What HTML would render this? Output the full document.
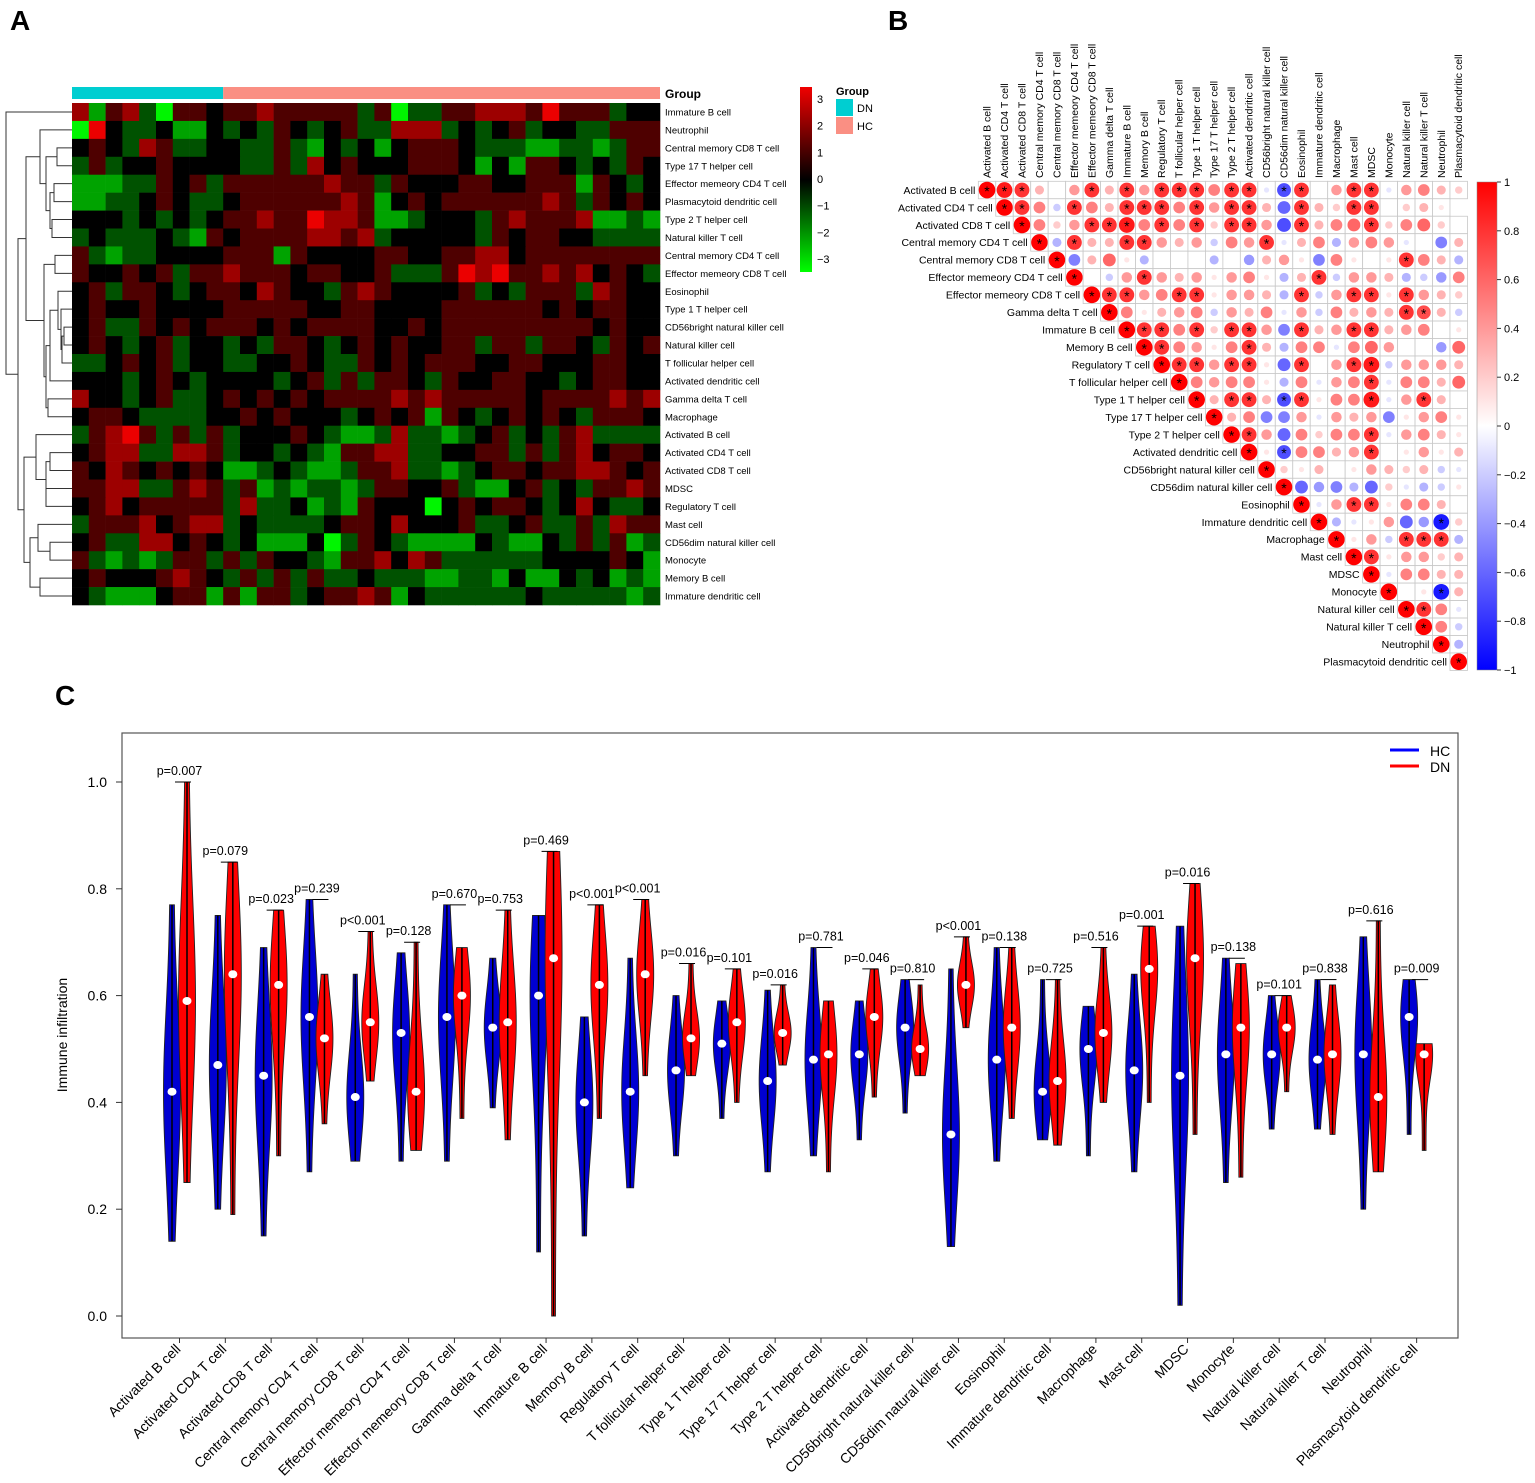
<!DOCTYPE html>
<html><head><meta charset="utf-8">
<style>
html,body{margin:0;padding:0;background:#fff;}
svg{display:block;font-family:"Liberation Sans",Arial,sans-serif;}
</style></head>
<body>
<svg id="fig" width="1535" height="1483" viewBox="0 0 1535 1483" xmlns="http://www.w3.org/2000/svg">
<rect width="1535" height="1483" fill="#fff"/>
<text x="10" y="30" font-size="28" font-weight="bold">A</text>
<text x="888" y="30" font-size="28" font-weight="bold">B</text>
<text x="55" y="705" font-size="28" font-weight="bold">C</text>
<g id="gA"></g>
<g id="gB"></g>
<g id="gC"></g>
</svg>
<script>
const NS="http://www.w3.org/2000/svg";
function mk(parent,tag,attrs,txt){const e=document.createElementNS(NS,tag);for(const k in attrs)e.setAttribute(k,attrs[k]);if(txt!==undefined)e.textContent=txt;parent.appendChild(e);return e;}

/* ---------------- DATA ---------------- */
const heatRows=["Immature  B cell","Neutrophil","Central memory CD8 T cell","Type 17 T helper cell","Effector memeory CD4 T cell","Plasmacytoid dendritic cell","Type 2 T helper cell","Natural killer T cell","Central memory CD4 T cell","Effector memeory CD8 T cell","Eosinophil","Type 1 T helper cell","CD56bright natural killer cell","Natural killer cell","T follicular helper cell","Activated dendritic cell","Gamma delta T cell","Macrophage","Activated B cell","Activated CD4 T cell","Activated CD8 T cell","MDSC","Regulatory T cell","Mast cell","CD56dim natural killer cell","Monocyte","Memory B cell","Immature dendritic cell"];
const heatGroups=[9,26]; // DN columns, HC columns
const heatValues=[
"51452044344544444240224455546444233",
"06322311323243234225552323423322444",
"34325422332242132313444322211221244",
"24233433332242534333444313144323243",
"11122434244444454424333443344414323",
"11223432234444445413434444445424343",
"33323232344544655411233324544451121",
"23222321434444554523333324344332222",
"42122333344414333344334455344444444",
"43343424454443443342224656445453432",
"34244323443543324543333423244425433",
"34334333344444334433334444443434433",
"34224343444343444433434444444443433",
"34323423323244323434334424424432434",
"22343423322334322434344433443334433",
"33323432333323424244324334433234433",
"53323422343434344445454444434444545",
"34432222334343332343414323434324443",
"24564242423334321125221234232452222",
"34552255423323214455223344242453443",
"43543434311232112445221234434455434",
"44552245424121221244334211342324454",
"34534444425223121433303434432353223",
"24445345523222234435333422342242544",
"34225534323111302432111132113242412",
"42121244242433214453542222223333431",
"34333454324242422322211221311323121",
"32111344141442344541322222232222212"];
const legendTicks=[3,2,1,0,-1,-2,-3];

const corrNames=["Activated B cell","Activated CD4 T cell","Activated CD8 T cell","Central memory CD4 T cell","Central memory CD8 T cell","Effector memeory CD4 T cell","Effector memeory CD8 T cell","Gamma delta T cell","Immature  B cell","Memory B cell","Regulatory T cell","T follicular helper cell","Type 1 T helper cell","Type 17 T helper cell","Type 2 T helper cell","Activated dendritic cell","CD56bright natural killer cell","CD56dim natural killer cell","Eosinophil","Immature dendritic cell","Macrophage","Mast cell","MDSC","Monocyte","Natural killer cell","Natural killer T cell","Neutrophil","Plasmacytoid dendritic cell"];
// upper triangle rows (start at diagonal). digits=+0.d, a-i=-0.1..-0.9, A-F=0.5*..1.0* (significant), x=-0.7*, y=-0.9*
const corrRows=["FED304D3D4DDD5DDaxD04DDa4532","FD5bD53DDD5D4DD3fD32DD0231","F524DDE5D5D2DD4gD356D25620","FcD33DD434b54Da35c454a0e3","Fe361c000c0d341e5101D53c","F0b4D4341451c3Db443cbd5","FDD45DD1443cDb4DD1D432","F51345b435a4b5343DC3b","FDD5D2DD4eD34DD34501","FD5415D3c55a56400d6","FDD4DD1fD04DEb4443","F54551c5a45Da5536","F3DD3xD155Ea4D30","F35ee4a434e1451","FD4f5255Da4531","F1x5534D01413","F213014323ba","Ffdecf2acb1","Fa4DD15530","Fca14fdy2","F14bDDDc","FD14423","Fa5533","F01y3","FD5a","F5b","Fc","F"];
const corrTicks=[1,0.8,0.6,0.4,0.2,0,-0.2,-0.4,-0.6,-0.8,-1];

const violinCats=["Activated B cell","Activated CD4 T cell","Activated CD8 T cell","Central memory CD4 T cell","Central memory CD8 T cell","Effector memeory CD4 T cell","Effector memeory CD8 T cell","Gamma delta T cell","Immature  B cell","Memory B cell","Regulatory T cell","T follicular helper cell","Type 1 T helper cell","Type 17 T helper cell","Type 2 T helper cell","Activated dendritic cell","CD56bright natural killer cell","CD56dim natural killer cell","Eosinophil","Immature dendritic cell","Macrophage","Mast cell","MDSC","Monocyte","Natural killer cell","Natural killer T cell","Neutrophil","Plasmacytoid dendritic cell"];
const hcMax=[0.77,0.75,0.69,0.78,0.64,0.68,0.77,0.67,0.75,0.56,0.67,0.60,0.59,0.61,0.69,0.59,0.63,0.65,0.69,0.63,0.58,0.64,0.73,0.67,0.60,0.63,0.71,0.63];
const hcMin=[0.14,0.20,0.15,0.27,0.29,0.29,0.29,0.39,0.12,0.15,0.24,0.30,0.37,0.27,0.30,0.33,0.38,0.13,0.29,0.33,0.30,0.27,0.02,0.25,0.35,0.35,0.20,0.34];
const hcMed=[0.42,0.47,0.45,0.56,0.41,0.53,0.56,0.54,0.60,0.40,0.42,0.46,0.51,0.44,0.48,0.49,0.54,0.34,0.48,0.42,0.50,0.46,0.45,0.49,0.49,0.48,0.49,0.56];
const dnMax=[1.00,0.85,0.76,0.64,0.72,0.70,0.69,0.76,0.87,0.77,0.78,0.66,0.65,0.62,0.59,0.65,0.62,0.71,0.69,0.63,0.69,0.73,0.81,0.66,0.60,0.62,0.74,0.51];
const dnMin=[0.25,0.19,0.30,0.36,0.44,0.31,0.37,0.33,0.00,0.37,0.45,0.45,0.40,0.47,0.27,0.41,0.45,0.54,0.37,0.32,0.40,0.40,0.34,0.26,0.42,0.34,0.27,0.31];
const dnMed=[0.59,0.64,0.62,0.52,0.55,0.42,0.60,0.55,0.67,0.62,0.64,0.52,0.55,0.53,0.49,0.56,0.50,0.62,0.54,0.44,0.53,0.65,0.67,0.54,0.54,0.49,0.41,0.49];
const pLabels=["p=0.007","p=0.079","p=0.023","p=0.239","p<0.001","p=0.128","p=0.670","p=0.753","p=0.469","p<0.001","p<0.001","p=0.016","p=0.101","p=0.016","p=0.781","p=0.046","p=0.810","p<0.001","p=0.138","p=0.725","p=0.516","p=0.001","p=0.016","p=0.138","p=0.101","p=0.838","p=0.616","p=0.009"];
const yTicks=[0,0.2,0.4,0.6,0.8,1.0];

/* ---------------- PANEL A ---------------- */
(function(){
const g=document.getElementById('gA');
const x0=72,x1=660,y0=103,y1=605;
const nC=heatGroups[0]+heatGroups[1], nR=heatRows.length;
const cw=(x1-x0)/nC, rh=(y1-y0)/nR;
// group bar
let e=mk(g,'rect',{x:x0,y:87,width:cw*heatGroups[0],height:12,fill:'#00ced1'});

e=mk(g,'rect',{x:x0+cw*heatGroups[0],y:87,width:cw*heatGroups[1],height:12,fill:'#fa8f83'});

e=mk(g,'text',{x:665,y:98,'font-size':12,'font-weight':'bold'},'Group');

function col(v){if(v>=0){return 'rgb('+Math.round(v/3*235)+',0,0)';}return 'rgb(0,'+Math.round(-v/3*245)+',0)';}
heatValues.forEach((row,r)=>{
  for(let c=0;c<nC;c++){
    const v=(parseInt(row[c]||'3'))-3;
    const cell=mk(g,'rect',{x:x0+c*cw,y:y0+r*rh,width:cw+0.3,height:rh+0.3,fill:col(v)});
    
    
  }
  const t=mk(g,'text',{x:665,y:y0+r*rh+rh/2+3.5,'font-size':9.5},heatRows[r]);
  
  
});
// dendrogram
const C1=[26,[40,1,[46,[57,2,3],[50,[54,4,5],[52,6,7]]]],[44,[55,8,9],[46,[50,[58,10,[61,11,[62,[64,12,13],14]]],15],[48,16,17]]]];
const C2=[24,[36,18,[46,[50,19,20],[46,21,22]]],[30,[38,23,[50,24,25]],[40,26,27]]];
const tree=[6,0,[18,C1,C2]];
function draw(n){
  if(typeof n==='number'){return {x:x0,y:y0+n*rh+rh/2};}
  const a=draw(n[1]),b=draw(n[2]);const hx=n[0];
  const p=mk(g,'path',{d:`M${a.x},${a.y}H${hx}V${b.y}H${b.x}`,fill:'none',stroke:'#333','stroke-width':1});
  
  return {x:hx,y:(a.y+b.y)/2};
}
draw(tree);
// legend
const defs=mk(g,'defs',{});
const lg=mk(defs,'linearGradient',{id:'hmgrad',x1:0,y1:0,x2:0,y2:1});
mk(lg,'stop',{offset:'0','stop-color':'#f00000'});mk(lg,'stop',{offset:'0.5','stop-color':'#000'});mk(lg,'stop',{offset:'1','stop-color':'#00ff00'});
e=mk(g,'rect',{x:800,y:87,width:12,height:185,fill:'url(#hmgrad)'});

legendTicks.forEach(v=>{const y=179-v*26.7;
  const t=mk(g,'text',{x:817,y:y+4,'font-size':11},v<0?'\u2212'+(-v):String(v));
  });
e=mk(g,'text',{x:836,y:95,'font-size':11,'font-weight':'bold'},'Group');

e=mk(g,'rect',{x:836,y:99,width:17,height:17,fill:'#00ced1'});

e=mk(g,'text',{x:857,y:112,'font-size':11},'DN');

e=mk(g,'rect',{x:836,y:117,width:17,height:17,fill:'#fa8f83'});

e=mk(g,'text',{x:857,y:130,'font-size':11},'HC');

})();

/* ---------------- PANEL B ---------------- */
(function(){
const g=document.getElementById('gB');
const n=corrNames.length, cs=17.47, gx=978.3, gy=181.3;
function dec(ch){
  if(ch>='0'&&ch<='9')return {r:parseInt(ch)/10,s:false};
  if(ch>='a'&&ch<='i')return {r:-(ch.charCodeAt(0)-96)/10,s:false};
  if(ch>='A'&&ch<='F')return {r:(ch.charCodeAt(0)-60)/10,s:true};
  if(ch==='x')return {r:-0.7,s:true};
  if(ch==='y')return {r:-0.9,s:true};
  return {r:0,s:false};
}
function col(r){const t=Math.min(1,Math.abs(r));const w=Math.round(255*(1-t));return r>=0?`rgb(255,${w},${w})`:`rgb(${w},${w},255)`;}
corrRows.forEach((row,i)=>{
  for(let k=0;k<row.length;k++){
    const j=i+k;const d=dec(row[k]);
    const cx=gx+j*cs,cy=gy+i*cs;
    const cell=mk(g,'rect',{x:cx,y:cy,width:cs,height:cs,fill:'#fff',stroke:'#c8c8c8','stroke-width':0.8});
    
    
    const rad=Math.sqrt(Math.abs(d.r))*8.3;
    const c=mk(g,'circle',{cx:cx+cs/2,cy:cy+cs/2,r:rad,fill:col(d.r)});
    
    
    if(d.s){const s=mk(g,'text',{x:cx+cs/2,y:cy+cs/2+6,'font-size':14,'text-anchor':'middle'},'*');
      
      }
  }
  const t=mk(g,'text',{x:gx+i*cs-3,y:gy+i*cs+cs/2+3.8,'font-size':10.5,'text-anchor':'end'},corrNames[i]);
  
  
  const tx=gx+i*cs+cs/2+3.5;
  const ct=mk(g,'text',{x:tx,y:178,'font-size':10.5,transform:`rotate(-90 ${tx} 178)`},corrNames[i]);
  
  
});
const defs=mk(g,'defs',{});
const lg=mk(defs,'linearGradient',{id:'cbgrad',x1:0,y1:0,x2:0,y2:1});
mk(lg,'stop',{offset:'0','stop-color':'#ff0000'});mk(lg,'stop',{offset:'0.5','stop-color':'#ffffff'});mk(lg,'stop',{offset:'1','stop-color':'#0000ff'});
const cb=mk(g,'rect',{x:1477,y:182,width:20,height:488,fill:'url(#cbgrad)',stroke:'#888','stroke-width':0.5});

corrTicks.forEach(v=>{const y=426-v*244;
  const l=mk(g,'line',{x1:1497,x2:1501,y1:y,y2:y,stroke:'#333'});
  
  const t=mk(g,'text',{x:1504,y:y+4,'font-size':11},v<0?'\u2212'+(-v):String(v));
  });
})();

/* ---------------- PANEL C ---------------- */
(function(){
const g=document.getElementById('gC');
const bx0=122,bx1=1458,by0=733,by1=1338;
const Y=v=>1316-v*534;
const X=i=>179.5+i*45.82;
const frame=mk(g,'rect',{x:bx0,y:by0,width:bx1-bx0,height:by1-by0,fill:'none',stroke:'#555','stroke-width':1.2});

yTicks.forEach(v=>{
  const l=mk(g,'line',{x1:bx0-6,x2:bx0,y1:Y(v),y2:Y(v),stroke:'#333'});
  
  const t=mk(g,'text',{x:bx0-15,y:Y(v)+5,'font-size':14,'text-anchor':'end'},v.toFixed(1));
  
});
let e=mk(g,'text',{x:67,y:1035,'font-size':14,'text-anchor':'middle',transform:'rotate(-90 67 1035)'},'Immune infiltration');

function violin(cx,mn,mx,md,fill,name){
  const W=8.5,N=50,sig=(mx-mn)*0.35;
  const pts=[];
  for(let k=0;k<=N;k++){const v=mx-(mx-mn)*k/N;const w=W*(0.22+0.78*Math.exp(-Math.pow((v-md)/sig,2)));pts.push([v,w]);}
  let d='M'+(cx)+','+Y(mx);
  pts.forEach(p=>{d+='L'+(cx+p[1]).toFixed(2)+','+Y(p[0]).toFixed(2);});
  d+='L'+cx+','+Y(mn);
  for(let k=pts.length-1;k>=0;k--){d+='L'+(cx-pts[k][1]).toFixed(2)+','+Y(pts[k][0]).toFixed(2);}
  d+='Z';
  const p=mk(g,'path',{d:d,fill:fill,stroke:'#222','stroke-width':0.9});
  
  
  const ln=mk(g,'line',{x1:cx,x2:cx,y1:Y(mx),y2:Y(mn),stroke:'#000','stroke-width':1.5});
  
  
  const dot=mk(g,'ellipse',{cx:cx,cy:Y(md),rx:4.5,ry:4,fill:'#fff'});
  
  
}
violinCats.forEach((c,i)=>{
  const xc=X(i),xb=xc-7.5,xr=xc+7.5;
  violin(xb,hcMin[i],hcMax[i],hcMed[i],'#0000d2','violin-hc');
  violin(xr,dnMin[i],dnMax[i],dnMed[i],'#ff0000','violin-dn');
  const top=Y(Math.max(hcMax[i],dnMax[i]));
  const br=mk(g,'line',{x1:xb+3,x2:xr+4,y1:top,y2:top,stroke:'#000','stroke-width':1});
  
  
  const pt=mk(g,'text',{x:xc,y:top-7,'font-size':12.5,'text-anchor':'middle'},pLabels[i]);
  
  
  const tk=mk(g,'line',{x1:xc,x2:xc,y1:by1,y2:by1+5,stroke:'#333'});
  
  
  const tl=mk(g,'text',{x:xc+2,y:by1+12,'font-size':14,'text-anchor':'end',transform:`rotate(-45 ${xc+2} ${by1+12})`},c);
  
  
});
e=mk(g,'line',{x1:1390,x2:1419,y1:750,y2:750,stroke:'#0000ff','stroke-width':3});

e=mk(g,'text',{x:1430,y:756,'font-size':14},'HC');

e=mk(g,'line',{x1:1390,x2:1419,y1:766,y2:766,stroke:'#ff0000','stroke-width':3});

e=mk(g,'text',{x:1430,y:772,'font-size':14},'DN');

})();
</script>
</body></html>
